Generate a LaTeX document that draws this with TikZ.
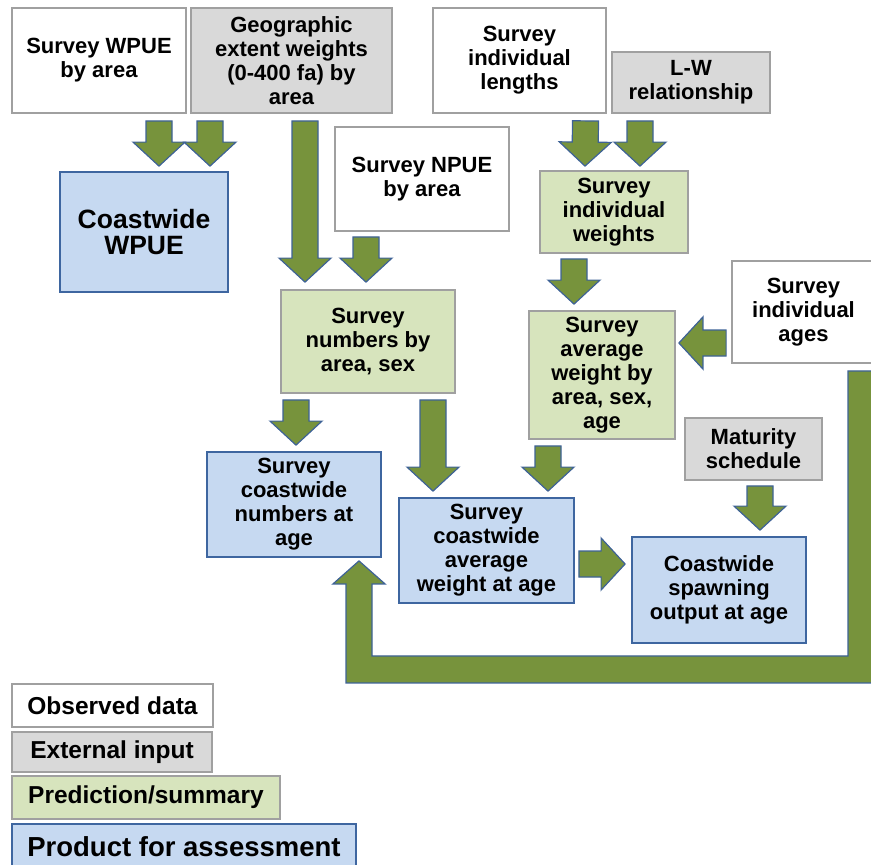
\documentclass[tikz,border=0pt]{standalone}
\usepackage{fontspec}
\setmainfont{Liberation Sans}
\usepackage{xcolor}
\usetikzlibrary{calc}

\definecolor{extfill}{RGB}{217,217,217}
\definecolor{predfill}{RGB}{215,228,189}
\definecolor{prodfill}{RGB}{198,217,241}
\definecolor{boxgray}{RGB}{160,160,160}
\definecolor{boxblue}{RGB}{62,102,160}
\definecolor{arrowgreen}{RGB}{119,147,60}
\definecolor{arrowline}{RGB}{62,98,150}

\tikzset{
  box/.style={draw=boxgray, line width=1.8pt, rectangle, inner sep=0pt, align=center,
    font=\bfseries\fontsize{22}{24}\selectfont},
  observed/.style={box, fill=white},
  external/.style={box, fill=extfill},
  prediction/.style={box, fill=predfill},
  product/.style={box, draw=boxblue, fill=prodfill},
  legendtext/.style={font=\bfseries\fontsize{24.5}{26}\selectfont},
  fat/.style={fill=arrowgreen, draw=arrowline, line width=1.2pt, line join=miter},
}

% block arrow from #1 to #2 (tip)
\newcommand{\fatarrow}[2]{%
  \path (#1) coordinate (fa-s) (#2) coordinate (fa-e);
  \path ($(fa-e)!24pt!(fa-s)$) coordinate (fa-n);
  \filldraw[fat] ($(fa-s)!13pt!90:(fa-e)$) -- ($(fa-n)!13pt!90:(fa-e)$)
    -- ($(fa-n)!26pt!90:(fa-e)$) -- (fa-e) -- ($(fa-n)!26pt!-90:(fa-e)$)
    -- ($(fa-n)!13pt!-90:(fa-e)$) -- ($(fa-s)!13pt!-90:(fa-e)$) -- cycle;}

\begin{document}
\begin{tikzpicture}[x=1pt, y=-1pt]
\useasboundingbox (0,0) rectangle (871,865);

% inputs
\node[observed, minimum width=174, minimum height=105] (wpue) at (99,60.5) {Survey WPUE\\by area};
\node[external, minimum width=201, minimum height=105] (geo) at (291.5,60.5) {Geographic\\extent weights\\(0-400 fa) by\\area};
\node[observed, minimum width=173, minimum height=105] (lengths) at (519.5,60.5) {Survey\\individual\\lengths};
\node[external, minimum width=158, minimum height=61] (lw) at (691,82.5) {L-W\\relationship};
\node[observed, minimum width=174, minimum height=104] (npue) at (422,179) {Survey NPUE\\by area};
\node[observed, minimum width=143, minimum height=102] (ages) at (803.5,312) {Survey\\individual\\ages};
\node[external, minimum width=137, minimum height=62] (maturity) at (753.5,449) {Maturity\\schedule};

% predictions
\node[prediction, minimum width=148, minimum height=82] (indw) at (614,212) {Survey\\individual\\weights};
\node[prediction, minimum width=174, minimum height=103] (numbers) at (368,341.5) {Survey\\numbers by\\area, sex};
\node[prediction, minimum width=146, minimum height=128] (avgw) at (602,375) {Survey\\average\\weight by\\area, sex,\\age};

% products
\node[product, minimum width=168, minimum height=120, font=\bfseries\fontsize{26.5}{26}\selectfont] (cwpue) at (144,232) {Coastwide\\WPUE};
\node[product, minimum width=174, minimum height=105] (cnum) at (294,504.5) {Survey\\coastwide\\numbers at\\age};
\node[product, minimum width=175, minimum height=105] (cavg) at (486.5,550.5) {Survey\\coastwide\\average\\weight at age};
\node[product, minimum width=174, minimum height=106] (spawn) at (719,590) {Coastwide\\spawning\\output at age};

% legend
\node[observed, legendtext, minimum width=201, minimum height=43] (lobs) at (112.5,705.5) {Observed data};
\node[external, legendtext, minimum width=200, minimum height=40] (lext) at (112,752) {External input};
\node[prediction, legendtext, minimum width=268, minimum height=43] (lpred) at (146,797.5) {Prediction/summary};
\node[product, minimum width=344, minimum height=46, font=\bfseries\fontsize{27.5}{28}\selectfont] (lprod) at (184,847) {Product for assessment};

% arrows
\fatarrow{[shift={(60,7)}]wpue.south}{[shift={(15,-5)}]cwpue.north}
\fatarrow{[shift={(-81.5,7)}]geo.south}{[shift={(66,-5)}]cwpue.north}
\fatarrow{[shift={(13.5,7)}]geo.south}{[shift={(-63,-7)}]numbers.north}
\fatarrow{[shift={(-56,5)}]npue.south}{[shift={(-2,-7)}]numbers.north}
\fatarrow{[shift={(66,7)}]lengths.south}{[shift={(-29,-4)}]indw.north}
\fatarrow{[shift={(-51,7)}]lw.south}{[shift={(26,-4)}]indw.north}
\fatarrow{[shift={(-40,5)}]indw.south}{[shift={(-28,-6)}]avgw.north}
\fatarrow{[shift={(-5,31)}]ages.west}{[shift={(3,-32)}]avgw.east}
\fatarrow{[shift={(-72,6)}]numbers.south}{[shift={(2,-6)}]cnum.north}
\fatarrow{[shift={(65,6)}]numbers.south}{[shift={(-53.5,-6)}]cavg.north}
\fatarrow{[shift={(-54,6)}]avgw.south}{[shift={(61.5,-6)}]cavg.north}
\fatarrow{[shift={(6.5,5)}]maturity.south}{[shift={(41,-6)}]spawn.north}
\fatarrow{[shift={(4,13.5)}]cavg.east}{[shift={(-6,-26)}]spawn.west}

% ages back to coastwide numbers
\coordinate (fb-a) at ([shift={(57.5,7)}]ages.south);
\coordinate (fb-b) at ([shift={(65,3)}]cnum.south);
\filldraw[fat] ($(fb-a)+(-13,0)$) -- ($(fb-a)+(13,0)$) -- ($(fb-a)+(13,312)$)
  -- ($(fb-b |- fb-a)+(-13,312)$) -- ($(fb-b)+(-13,23)$) -- ($(fb-b)+(-26,23)$)
  -- (fb-b) -- ($(fb-b)+(26,23)$) -- ($(fb-b)+(13,23)$)
  -- ($(fb-b |- fb-a)+(13,285)$) -- ($(fb-a)+(-13,285)$) -- cycle;
\end{tikzpicture}
\end{document}
